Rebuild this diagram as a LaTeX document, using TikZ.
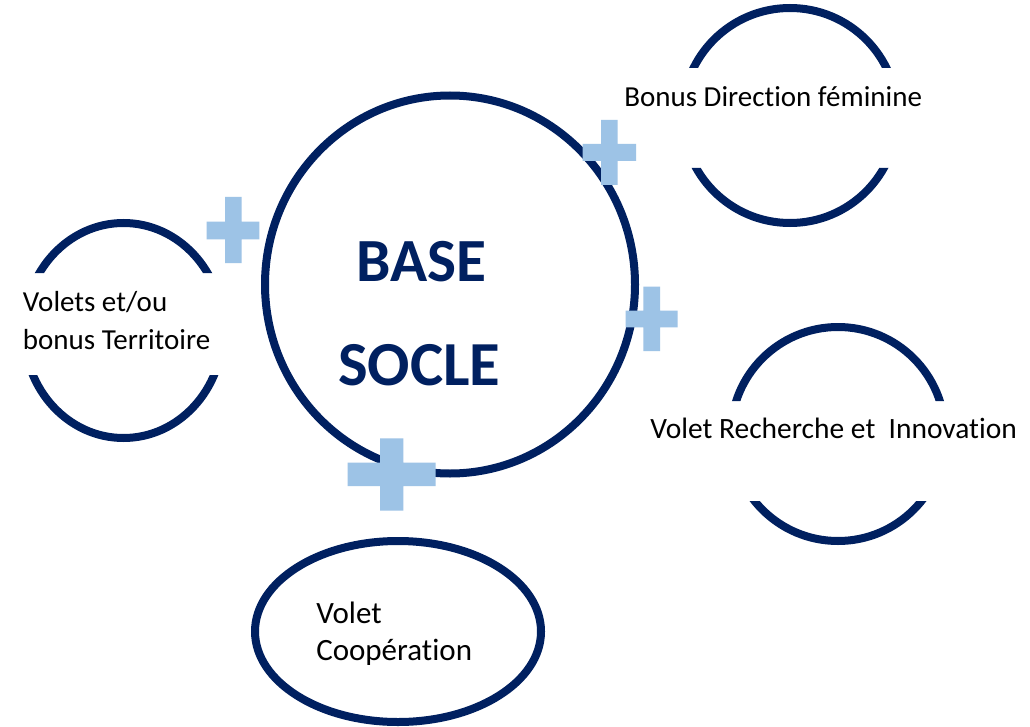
\documentclass[tikz,border=0pt]{standalone}
\usepackage{fontspec}
\setmainfont{Carlito}[Ligatures=NoCommon]
\definecolor{navy}{HTML}{002060}
\definecolor{plusblue}{HTML}{9DC3E6}
\begin{document}
\begin{tikzpicture}[x=0.75pt,y=-0.75pt,
  ring/.style={draw=navy,line width=6pt},
  plusbar/.style={fill=plusblue,draw=none},
  lbl/.style={anchor=base west,inner sep=0pt,font=\fontsize{21.75}{26}\selectfont,text=black},
  lblbig/.style={lbl,font=\fontsize{23.25}{28}\selectfont},
  lblmid/.style={lbl,font=\fontsize{22.1}{27}\selectfont},
  big/.style={anchor=base west,inner sep=0pt,font=\fontsize{46}{55}\selectfont\bfseries,text=navy}]
\fill[white] (0,0) rectangle (1030,727);
\useasboundingbox (0,0) rectangle (1030,727);
% main circle
\draw[ring] (450,284.5) ellipse [x radius=185, y radius=189];
% top-right broken circle
\begin{scope}
  \clip (670,-5) rectangle (910,68) (670,168) rectangle (910,235);
  \draw[ring] (790,115.5) circle [radius=107.5];
\end{scope}
% left broken ellipse
\begin{scope}
  \clip (10,205) rectangle (240,273) (10,375) rectangle (240,450);
  \draw[ring] (123.5,330.5) ellipse [x radius=99.5, y radius=107.5];
\end{scope}
% right broken circle
\begin{scope}
  \clip (720,310) rectangle (960,401) (720,501) rectangle (960,555);
  \draw[ring] (838,434) circle [radius=107];
\end{scope}
% bottom ellipse
\draw[ring] (398,631.5) ellipse [x radius=143, y radius=90.5];
% plus signs
\fill[plusbar] (582.7,144) rectangle (636,161) (601,120) rectangle (617.7,185);
\fill[plusbar] (206.7,221.7) rectangle (259.3,239.3) (225,197) rectangle (241.7,263);
\fill[plusbar] (625.7,310.7) rectangle (677.7,327.3) (643.3,286.7) rectangle (660,351);
\fill[plusbar] (347.7,462.7) rectangle (435.7,486) (380,438.3) rectangle (403.3,510.7);
% texts
\node[big] (base) at (356,281.7) {BASE};
\node[big,font=\fontsize{47}{55}\selectfont\bfseries] (socle) at (338,385) {SOCLE};
\node[lbl] (bonusdir) at (624,106.7) {Bonus Direction féminine};
\node[lbl] (volets1) at (22.7,311.7) {Volets et/ou};
\node[lbl] (volets2) at (22.7,349.3) {bonus Territoire};
\node[lblmid] (recherche) at (650,438.3) {Volet Recherche et~~Innovation};
\node[lblbig] (coop1) at (316,623.3) {Volet};
\node[lblbig] (coop2) at (316,660.7) {Coopération};
\end{tikzpicture}
\end{document}
